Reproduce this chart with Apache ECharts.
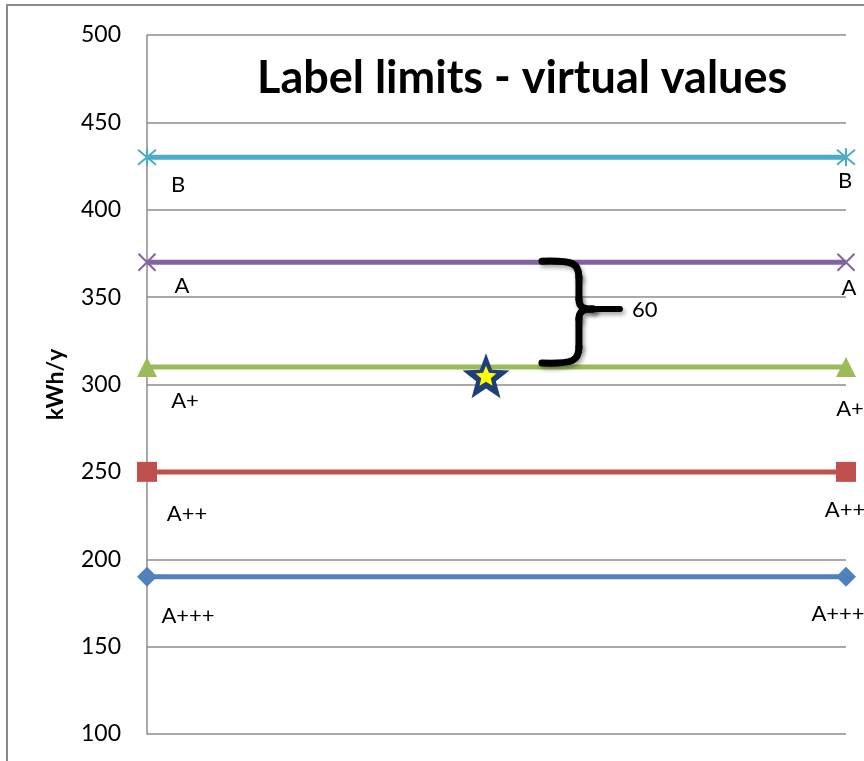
<!DOCTYPE html>
<html>
<head>
<meta charset="utf-8">
<script src="https://cdn.jsdelivr.net/npm/echarts@6/dist/echarts.min.js"></script>
<style>
  html, body { margin: 0; padding: 0; background: #ffffff; }
  #chart { width: 864px; height: 761px; }
</style>
</head>
<body>
<div id="chart"></div>
<script>
// Energy label class limits (kWh per year), each drawn as a flat line
const xEnds = [0, 1];
const classNames = ['A+++', 'A++', 'A+', 'A', 'B'];
const classLimits = [190, 250, 310, 370, 430];
const classColors = ['#4f81bd', '#c0504d', '#9bbb59', '#8064a2', '#4bacc6'];

// Axis range
const yMin = 100;
const yMax = 500;
const yStep = 50;

// Measured appliance consumption (the star)
const productX = 0.485;
const productValue = 305;

// Bracket between class A and class A+
const gapUpper = 370;
const gapLower = 310;

const FONT = 'Lato, "Open Sans", sans-serif';

// 5-pointed star outline as an SVG path
function starPath(innerRatio) {
  let d = '';
  for (let i = 0; i < 10; i++) {
    const r = i % 2 ? innerRatio : 1;
    const a = -Math.PI / 2 + i * Math.PI / 5;
    d += (i ? 'L' : 'M') + (Math.cos(a) * r).toFixed(4) + ',' + (Math.sin(a) * r).toFixed(4);
  }
  return 'path://' + d + 'Z';
}

const crossPath = 'path://M0,0L10,10M10,0L0,10';
const asteriskPath = 'path://M0,0L10,10M10,0L0,10M5,-1L5,11';

// marker style per class
const markers = [
  { symbol: 'diamond', size: 20, stroke: false },
  { symbol: 'rect', size: 20, stroke: false },
  { symbol: 'triangle', size: 20, stroke: false },
  { symbol: crossPath, size: 17, stroke: true },
  { symbol: asteriskPath, size: 18, stroke: true }
];

// label offsets [left point, right point]
const labelOffsets = [
  [[41, 39], [-8, 37]],
  [[40, 42], [-1, 38]],
  [[38, 34], [4, 42]],
  [[35, 24], [3, 26]],
  [[31, 28], [-1, 24]]
];

const lineSeries = classNames.map(function (name, i) {
  const m = markers[i];
  return {
    name: name,
    type: 'line',
    symbol: m.symbol,
    symbolSize: m.size,
    lineStyle: { color: classColors[i], width: 5 },
    itemStyle: m.stroke
      ? { color: 'rgba(0,0,0,0)', borderColor: classColors[i], borderWidth: 2 }
      : { color: classColors[i], borderWidth: 0 },
    z: 3,
    data: xEnds.map(function (x, j) {
      return {
        value: [x, classLimits[i]],
        label: {
          show: true,
          position: 'inside',
          offset: labelOffsets[i][j],
          formatter: name,
          color: '#000',
          fontFamily: FONT,
          fontSize: 22
        }
      };
    })
  };
});

const braceSeries = {
  type: 'custom',
  coordinateSystem: 'cartesian2d',
  z: 4,
  silent: true,
  data: [[0.565, gapUpper, gapLower]],
  renderItem: function (params, api) {
    const top = api.coord([api.value(0), api.value(1)]);
    const bot = api.coord([api.value(0), api.value(2)]);
    const xL = top[0];
    const xV = xL + 37;
    const xT = xL + 78;
    const yT = top[1] - 1;
    const yB = bot[1] - 4;
    const yM = (yT + yB) / 2 - 3;
    const st = {
      stroke: '#000', lineWidth: 7, fill: null, lineCap: 'round',
      shadowColor: 'rgba(0,0,0,0.35)', shadowBlur: 4, shadowOffsetX: 2, shadowOffsetY: 3
    };
    return {
      type: 'group',
      children: [
        { type: 'bezierCurve', shape: { x1: xL, y1: yT, cpx1: xV - 6, cpy1: yT - 1, cpx2: xV, cpy2: yT + 2, x2: xV, y2: yT + 16 }, style: st },
        { type: 'line', shape: { x1: xV, y1: yT + 16, x2: xV, y2: yM - 10 }, style: st },
        { type: 'bezierCurve', shape: { x1: xV, y1: yM - 10, cpx1: xV, cpy1: yM - 2, cpx2: xV + 4, cpy2: yM, x2: xV + 14, y2: yM }, style: st },
        { type: 'line', shape: { x1: xV + 14, y1: yM, x2: xT, y2: yM }, style: Object.assign({}, st, { lineWidth: 6 }) },
        { type: 'bezierCurve', shape: { x1: xV, y1: yM + 10, cpx1: xV, cpy1: yM + 2, cpx2: xV + 4, cpy2: yM, x2: xV + 14, y2: yM }, style: st },
        { type: 'line', shape: { x1: xV, y1: yM + 10, x2: xV, y2: yB - 16 }, style: st },
        { type: 'bezierCurve', shape: { x1: xV, y1: yB - 16, cpx1: xV, cpy1: yB - 2, cpx2: xV - 6, cpy2: yB + 1, x2: xL, y2: yB }, style: st },
        {
          type: 'text',
          style: {
            text: String(api.value(1) - api.value(2)),
            x: xT + 12, y: yM + 1,
            align: 'left', verticalAlign: 'middle',
            fill: '#000', font: '22px ' + FONT
          }
        }
      ]
    };
  }
};

const starSeries = [
  {
    type: 'scatter',
    symbol: starPath(0.42),
    symbolSize: [47, 45],
    itemStyle: { color: '#1f3f7a', opacity: 1 },
    z: 5,
    silent: true,
    data: [[productX, productValue]]
  },
  {
    type: 'scatter',
    symbol: starPath(0.45),
    symbolSize: [21, 20],
    itemStyle: { color: '#ffff00', opacity: 1 },
    z: 6,
    silent: true,
    data: [[productX, productValue]]
  }
];

const chart = echarts.init(document.getElementById('chart'), null, { renderer: 'canvas' });

chart.setOption({
  backgroundColor: '#ffffff',
  animation: false,
  title: {
    text: 'Label limits - virtual values',
    left: 252,
    top: 51,
    textStyle: { fontFamily: FONT, fontWeight: 'bold', fontSize: 45, color: '#000' }
  },
  graphic: [
    {
      type: 'rect',
      shape: { x: 7, y: 5, width: 900, height: 800 },
      style: { fill: null, stroke: '#8a8a8a', lineWidth: 2 },
      silent: true
    }
  ],
  grid: { left: 147, right: 18, top: 35, bottom: 27 },
  xAxis: {
    type: 'value',
    min: 0,
    max: 1,
    show: false
  },
  yAxis: {
    type: 'value',
    min: yMin,
    max: yMax,
    interval: yStep,
    name: 'kWh/y',
    nameLocation: 'middle',
    nameRotate: 90,
    nameGap: 80,
    nameTextStyle: { fontFamily: FONT, fontWeight: 'bold', fontSize: 23, color: '#000' },
    axisLine: { show: true, lineStyle: { color: '#8c8c8c', width: 1.5 } },
    axisTick: { show: false },
    axisLabel: { margin: 26, fontFamily: FONT, fontSize: 23, color: '#000' },
    splitLine: { show: true, lineStyle: { color: '#8c8c8c', width: 1.5 } }
  },
  series: lineSeries.concat([braceSeries]).concat(starSeries)
});
</script>
</body>
</html>
